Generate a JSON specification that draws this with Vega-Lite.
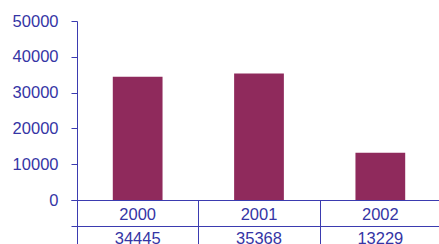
{
  "$schema": "https://vega.github.io/schema/vega-lite/v6.json",
  "padding": {"left": 12, "top": 13, "right": 0, "bottom": 0},
  "background": "white",
  "bounds": "flush",
  "spacing": 0,
  "config": {
    "view": {"stroke": null},
    "font": "Liberation Sans",
    "axis": {"domainColor": "#3b3bb0", "tickColor": "#3b3bb0", "gridColor": "#3b3bb0", "labelColor": "#3535a5", "labelFont": "Liberation Sans", "labelFontSize": 16.5, "title": null, "gridOpacity": 1}
  },
  "data": {"values": [
    {"year": "2000", "value": 34445},
    {"year": "2001", "value": 35368},
    {"year": "2002", "value": 13229}
  ]},
  "vconcat": [
    {
      "width": 364,
      "height": 179,
      "mark": {"type": "bar", "color": "#8f2a5c", "width": {"band": 0.41}},
      "encoding": {
        "x": {"field": "year", "type": "ordinal", "scale": {"paddingInner": 0, "paddingOuter": 0}, "axis": null},
        "y": {"field": "value", "type": "quantitative", "scale": {"domain": [0, 50000], "nice": false},
          "axis": {"values": [0, 10000, 20000, 30000, 40000, 50000], "grid": false, "tickSize": 6, "labelPadding": 13, "format": "d"}}
      }
    },
    {
      "width": 364,
      "height": 52,
      "encoding": {
        "x": {"field": "year", "type": "ordinal", "scale": {"paddingInner": 0, "paddingOuter": 0},
          "axis": {"grid": true, "tickBand": "extent", "labels": false, "ticks": false, "domain": false}}
      },
      "layer": [
        {
          "mark": {"type": "text", "fontSize": 16.5, "color": "#3535a5", "dy": 2},
          "encoding": {
            "y": {"datum": "year", "type": "ordinal", "scale": {"domain": ["year", "value"], "paddingInner": 0, "paddingOuter": 0},
              "axis": {"labels": false, "grid": true, "tickBand": "extent", "tickSize": 6, "domain": true}},
            "text": {"field": "year"}
          }
        },
        {
          "mark": {"type": "text", "fontSize": 16.5, "color": "#3535a5"},
          "encoding": {
            "y": {"datum": "value", "type": "ordinal"},
            "text": {"field": "value", "type": "quantitative", "format": "d"}
          }
        }
      ]
    }
  ]
}
